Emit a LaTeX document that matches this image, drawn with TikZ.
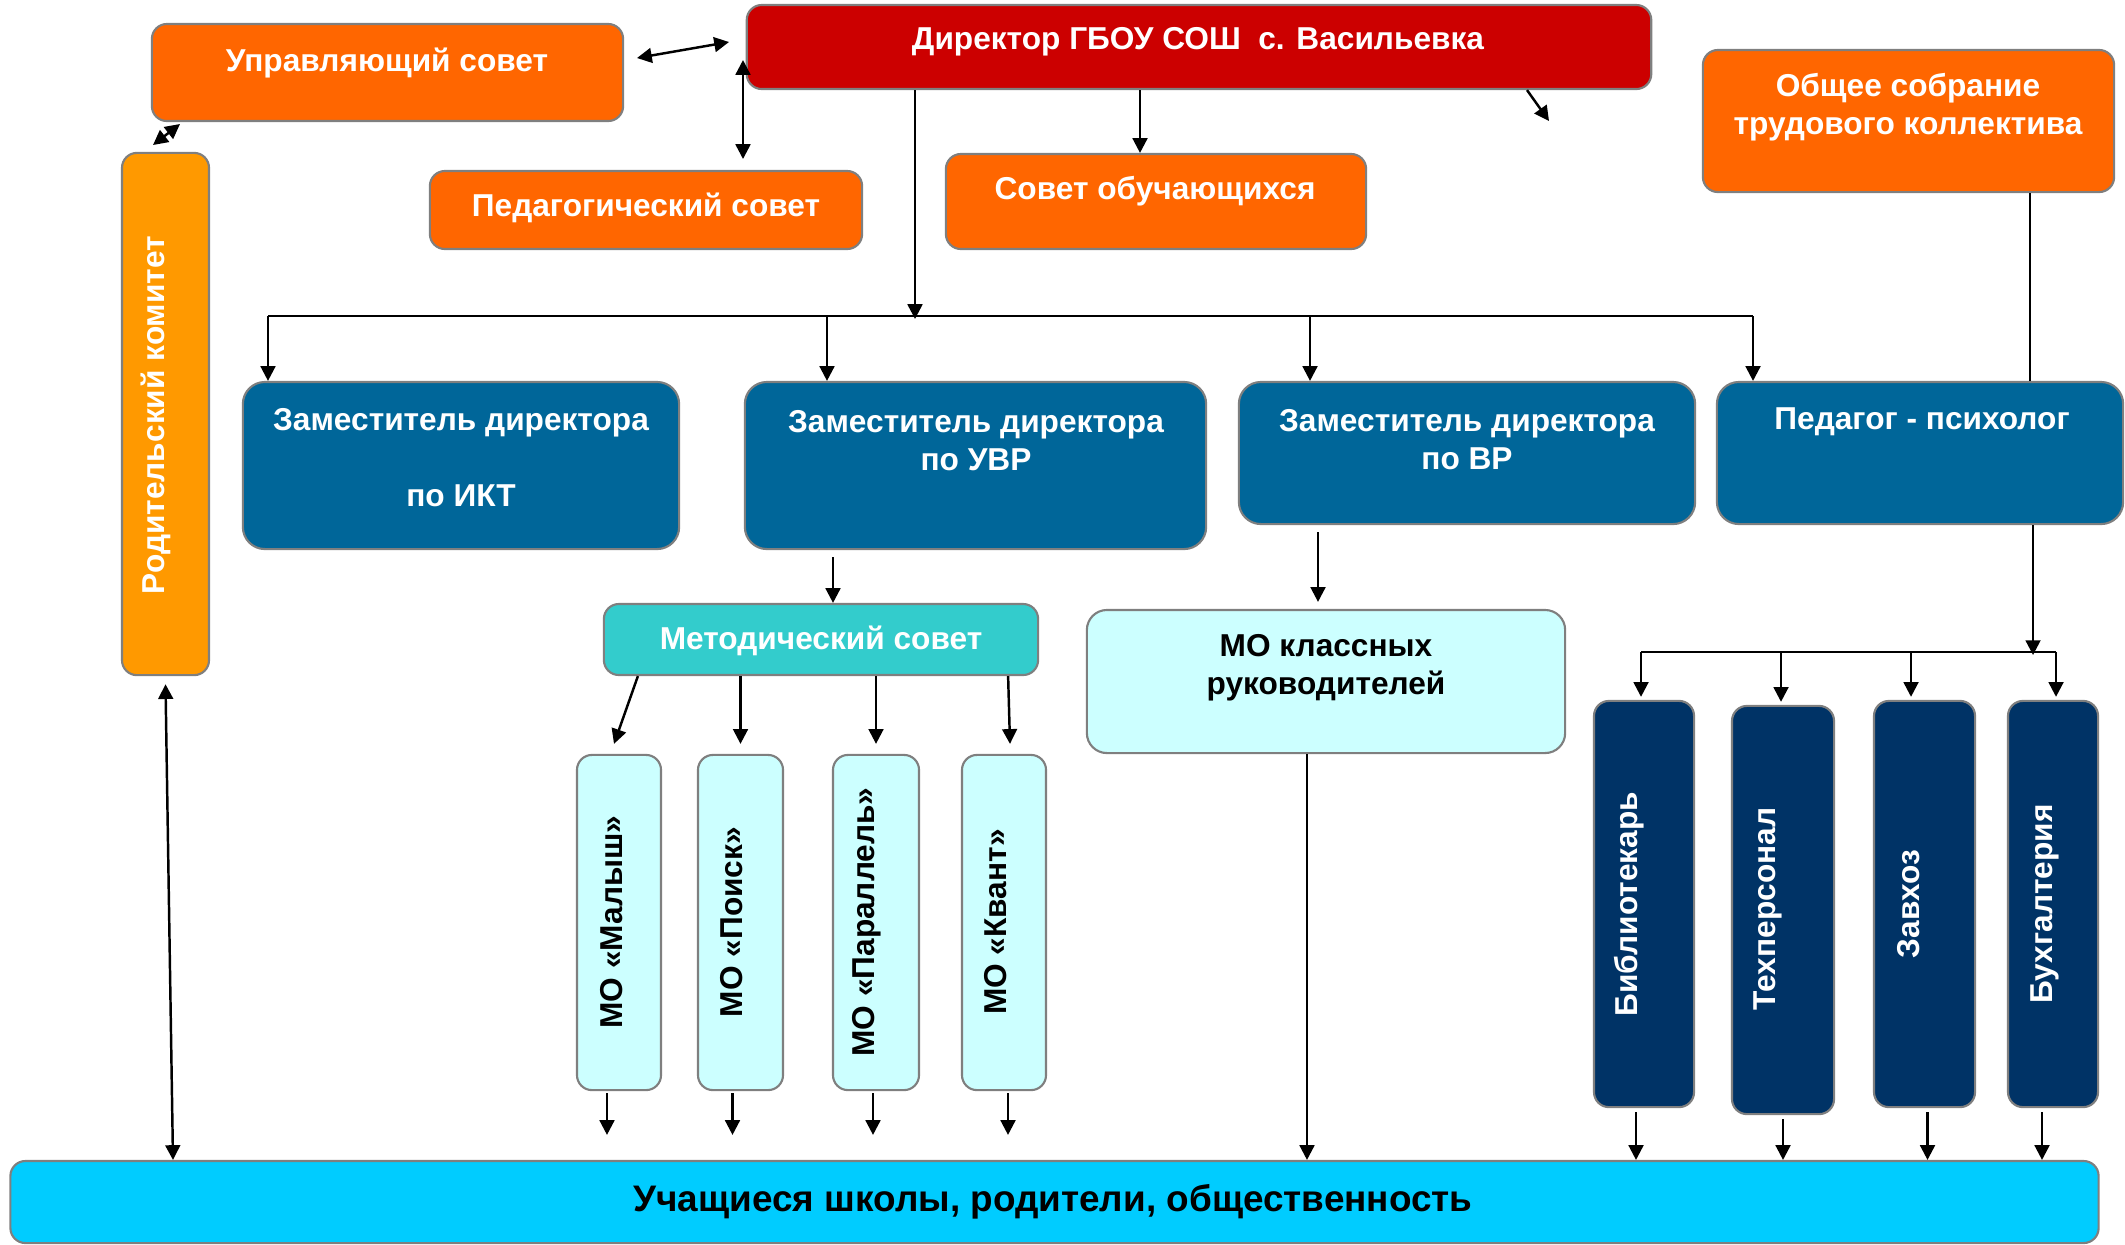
\documentclass[tikz,border=0pt]{standalone}
\usepackage{fontspec}
\setmainfont{Liberation Sans}
\usepackage{xcolor}
\usetikzlibrary{positioning, arrows.meta}

\definecolor{orng}{HTML}{FF6600}
\definecolor{lorng}{HTML}{FF9900}
\definecolor{dred}{HTML}{CC0000}
\definecolor{zblue}{HTML}{006699}
\definecolor{teal}{HTML}{33CCCC}
\definecolor{lcyan}{HTML}{CCFFFF}
\definecolor{navy}{HTML}{003366}
\definecolor{scyan}{HTML}{00CCFF}
\definecolor{boxline}{HTML}{7F7F7F}

\begin{document}
\begin{tikzpicture}[
    x=0.01cm, y=-0.01cm,
    font=\fontsize{9}{10.8}\selectfont\bfseries,
    box/.style={rectangle, draw=boxline, line width=0.6pt, rounded corners=0.15cm, inner sep=0pt},
    zbox/.style={box, rounded corners=0.22cm, fill=zblue},
    wtxt/.style={text=white, align=center, inner sep=0pt},
    btxt/.style={text=black, align=center, inner sep=0pt},
    arrow/.style={-{Triangle[length=4.2pt,width=4.2pt]}, line width=0.7pt},
    darrow/.style={{Triangle[length=4.2pt,width=4.2pt]}-{Triangle[length=4.2pt,width=4.2pt]}, line width=0.7pt},
    line/.style={line width=0.7pt}
]
\useasboundingbox (0,0) rectangle (2125,1244);

% Top row
\node[box, fill=dred, minimum width=9.04cm, minimum height=0.84cm] (dir) at (1199,47) {};
\node[wtxt] (dir-t) at (1198,42) {Директор ГБОУ СОШ\ \ с. Васильевка};
\node[box, fill=orng, minimum width=4.71cm, minimum height=0.97cm] (upr) at (387.5,72.5) {};
\node[wtxt] (upr-t) at (387,63) {Управляющий совет};
\node[box, fill=orng, minimum width=4.11cm, minimum height=1.42cm] (obs) at (1908.5,121) {};
\node[wtxt] (obs-t) at (1908,107) {Общее собрание\\трудового коллектива};
\node[box, fill=orng, minimum width=4.32cm, minimum height=0.78cm] (ped) at (646,210) {};
\node[wtxt] (ped-t) at (646,208) {Педагогический совет};
\node[box, fill=orng, minimum width=4.20cm, minimum height=0.95cm] (sov) at (1156,201.5) {};
\node[wtxt] (sov-t) at (1155,191) {Совет обучающихся};
\node[box, fill=lorng, minimum width=0.87cm, minimum height=5.22cm] (rod) at (165.5,414) {};
\node[wtxt, rotate=90] (rod-t) at (156,415) {Родительский комитет};

% Deputies
\node[zbox, minimum width=4.36cm, minimum height=1.67cm] (zikt) at (461,465.5) {};
\node[wtxt] (zikt-t) at (461,458) {Заместитель директора\\[10.8pt]по ИКТ};
\node[zbox, minimum width=4.61cm, minimum height=1.67cm] (zuvr) at (975.5,465.5) {};
\node[wtxt] (zuvr-t) at (976,441) {Заместитель директора\\по УВР};
\node[zbox, minimum width=4.56cm, minimum height=1.42cm] (zvr) at (1467,453) {};
\node[wtxt] (zvr-t) at (1467,440) {Заместитель директора\\по ВР};
\node[zbox, minimum width=4.06cm, minimum height=1.42cm] (psy) at (1920,453) {};
\node[wtxt] (psy-t) at (1922,422) {Педагог - психолог};

% Councils
\node[box, fill=teal, minimum width=4.34cm, minimum height=0.71cm] (met) at (821,639.5) {};
\node[wtxt] (met-t) at (821,641) {Методический совет};
\node[box, fill=lcyan, rounded corners=0.2cm, minimum width=4.78cm, minimum height=1.43cm] (mok) at (1326,681.5) {};
\node[btxt] (mok-t) at (1326,668) {МО классных\\руководителей};

% MO
\node[box, fill=lcyan, minimum width=0.84cm, minimum height=3.35cm] (mo1) at (619,922.5) {};
\node[btxt, rotate=90] (mo1-t) at (612,922) {МО «Малыш»};
\node[box, fill=lcyan, minimum width=0.85cm, minimum height=3.35cm] (mo2) at (740.5,922.5) {};
\node[btxt, rotate=90] (mo2-t) at (732,922) {МО «Поиск»};
\node[box, fill=lcyan, minimum width=0.86cm, minimum height=3.35cm] (mo3) at (876,922.5) {};
\node[btxt, rotate=90] (mo3-t) at (867,922) {МО «Параллель»};
\node[box, fill=lcyan, minimum width=0.84cm, minimum height=3.35cm] (mo4) at (1004,922.5) {};
\node[btxt, rotate=90] (mo4-t) at (996,922) {МО «Квант»};

% Staff
\node[box, fill=navy, minimum width=1.00cm, minimum height=4.06cm] (lib) at (1644,904) {};
\node[wtxt, rotate=90] (lib-t) at (1629,904) {Библиотекарь};
\node[box, fill=navy, minimum width=1.02cm, minimum height=4.08cm] (tech) at (1783,910) {};
\node[wtxt, rotate=90] (tech-t) at (1768,909) {Техперсонал};
\node[box, fill=navy, minimum width=1.01cm, minimum height=4.06cm] (zav) at (1924.5,904) {};
\node[wtxt, rotate=90] (zav-t) at (1909,904) {Завхоз};
\node[box, fill=navy, minimum width=0.90cm, minimum height=4.06cm] (buh) at (2053,904) {};
\node[wtxt, rotate=90] (buh-t) at (2045,904) {Бухгалтерия};

% Bottom
\node[box, fill=scyan, minimum width=20.87cm, minimum height=0.82cm] (uch) at (1054.5,1202) {};
\node[btxt, font=\fontsize{10.5}{12}\selectfont\bfseries] (uch-t) at (1053,1202) {Учащиеся школы, родители, общественность};

% Coordinates
\coordinate (bIKT) at (268,316);
\coordinate (bUVR) at (827,316);
\coordinate (bDIR) at (915,319);
\coordinate (bVR) at (1310,316);
\coordinate (bPSY) at (1753,316);
\coordinate (ud1) at (637,58);
\coordinate (ud2) at (729,42);
\coordinate (ur1) at (180,124);
\coordinate (ur2) at (153,145);
\coordinate (dp1) at (743,60);
\coordinate (dp2) at (743,159);
\coordinate (xs) at (1140,0);
\coordinate (xf) at (1527,0);
\coordinate (df) at (1549,121);
\coordinate (xo) at (2030,0);
\coordinate (xm) at (833,0);
\coordinate (xk) at (1318,0);
\coordinate (ru) at (173,0);
\coordinate (sPSY) at (2033,655);
\coordinate (sL) at (1641,652);
\coordinate (sTech) at (1781,652);
\coordinate (sZav) at (1911,652);
\coordinate (sR) at (2056,652);
\coordinate (m1) at ([xshift=-0.12cm]mo1.south);
\coordinate (m2) at ([xshift=-0.08cm]mo2.south);
\coordinate (m3) at ([xshift=-0.03cm]mo3.south);
\coordinate (m4) at ([xshift=0.04cm]mo4.south);
\coordinate (k1) at ([xshift=-0.19cm]mok.south);
\coordinate (l1) at ([xshift=-0.08cm]lib.south);
\coordinate (l2) at (tech.south);
\coordinate (l3) at ([xshift=0.03cm]zav.south);
\coordinate (l4) at ([xshift=-0.11cm]buh.south);

% Director links
\draw[darrow] (ud1) -- (ud2);
\draw[darrow] (ur1) -- (ur2);
\draw[darrow] (dp1) -- (dp2);
\draw[arrow] (dir.south -| xs) -- (xs |- sov.north);
\draw[arrow] (dir.south -| xf) -- (df);
\draw[arrow] (dir.south -| bDIR) -- (bDIR);

% Deputies bus
\draw[line] (bIKT) -- (bPSY);
\draw[arrow] (bIKT) -- (bIKT |- zikt.north);
\draw[arrow] (bUVR) -- (bUVR |- zuvr.north);
\draw[arrow] (bVR) -- (bVR |- zvr.north);
\draw[arrow] (bPSY) -- (bPSY |- psy.north);
\draw[line] (obs.south -| xo) -- (xo |- psy.north);

% Councils
\draw[arrow, shorten <=0.07cm] (zuvr.south -| xm) -- (xm |- met.north);
\draw[arrow, shorten <=0.07cm, shorten >=0.07cm] (zvr.south -| xk) -- (xk |- mok.north);
\draw[arrow] ([xshift=-1.83cm]met.south) -- ([xshift=-0.05cm, yshift=0.1cm]mo1.north);
\draw[arrow] (mo2.north |- met.south) -- ([yshift=0.1cm]mo2.north);
\draw[arrow] (mo3.north |- met.south) -- ([yshift=0.1cm]mo3.north);
\draw[arrow] ([xshift=1.87cm]met.south) -- ([xshift=0.06cm, yshift=0.1cm]mo4.north);

% To the bottom
\draw[arrow, shorten <=0.02cm, shorten >=0.25cm] (m1) -- (m1 |- uch.north);
\draw[arrow, shorten <=0.02cm, shorten >=0.25cm] (m2) -- (m2 |- uch.north);
\draw[arrow, shorten <=0.02cm, shorten >=0.25cm] (m3) -- (m3 |- uch.north);
\draw[arrow, shorten <=0.02cm, shorten >=0.25cm] (m4) -- (m4 |- uch.north);
\draw[arrow] (k1) -- (k1 |- uch.north);
\draw[darrow] ([yshift=-0.08cm]rod.south) -- (ru |- uch.north);

% Staff
\draw[arrow] (psy.south -| sPSY) -- (sPSY);
\draw[line] (sL) -- (sR);
\draw[arrow, shorten >=0.03cm] (sL) -- (sL |- lib.north);
\draw[arrow, shorten >=0.03cm] (sTech) -- (sTech |- tech.north);
\draw[arrow, shorten >=0.03cm] (sZav) -- (sZav |- zav.north);
\draw[arrow, shorten >=0.03cm] (sR) -- (sR |- buh.north);
\draw[arrow, shorten <=0.04cm] (l1) -- (l1 |- uch.north);
\draw[arrow, shorten <=0.04cm] (l2) -- (l2 |- uch.north);
\draw[arrow, shorten <=0.04cm] (l3) -- (l3 |- uch.north);
\draw[arrow, shorten <=0.04cm] (l4) -- (l4 |- uch.north);
\end{tikzpicture}
\end{document}
